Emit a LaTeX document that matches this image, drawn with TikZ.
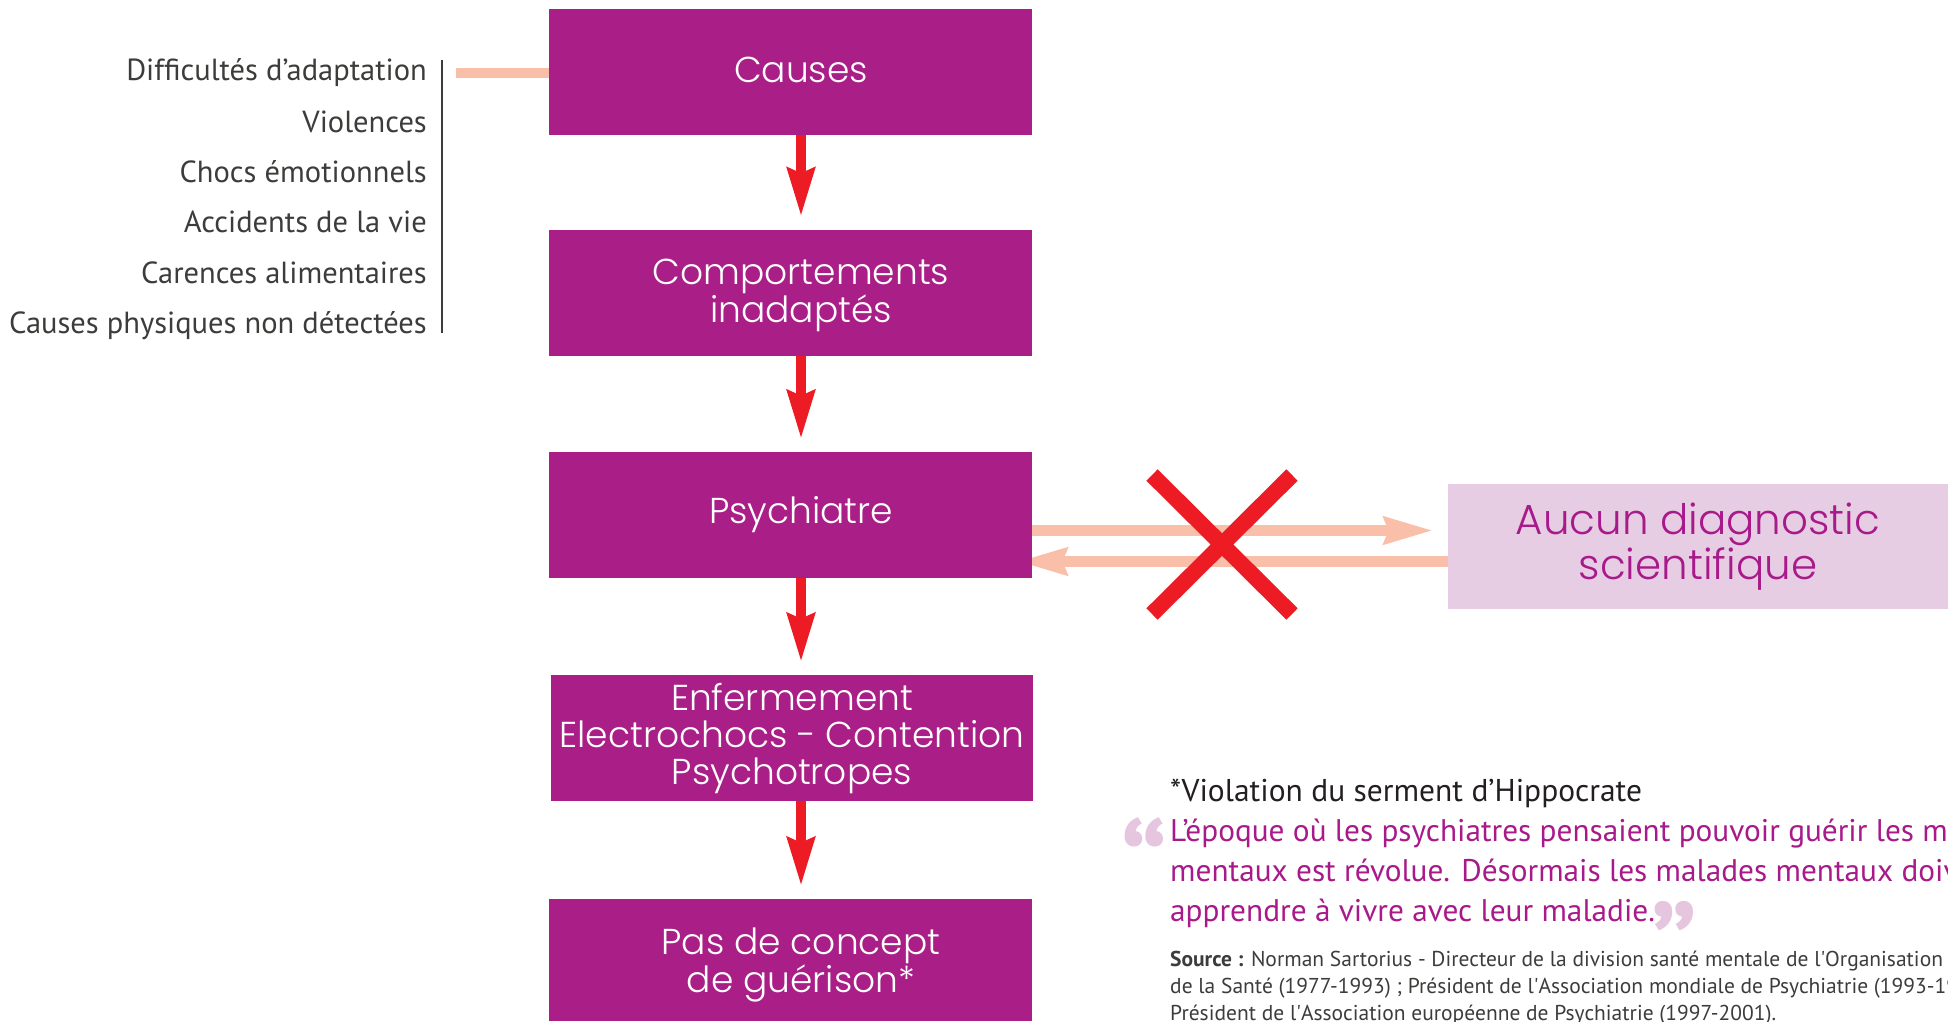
\documentclass[tikz,border=0pt]{standalone}
\usepackage{fontspec}
\setmainfont{PT Sans}
\newfontfamily\boxfont{Poppins Light}
\usetikzlibrary{arrows.meta}
\definecolor{boxpurple}{HTML}{AA1E88}
\definecolor{lightpink}{HTML}{E7CDE3}
\definecolor{salmon}{HTML}{F9BFA8}
\definecolor{xred}{HTML}{ED1C24}
\definecolor{quotepink}{HTML}{E6C5DF}
\definecolor{magtext}{HTML}{A8198A}
\definecolor{listgray}{HTML}{3C3C3B}
\definecolor{darktext}{HTML}{231F20}
\pgfdeclarelayer{bg}
\pgfsetlayers{bg,main}
\begin{document}
\begin{tikzpicture}[x=1pt,y=-1pt,
  stepbox/.style={rectangle, fill=boxpurple, inner sep=0pt,
    minimum width=483pt, minimum height=126pt},
  boxtext/.style={inner sep=0pt, text=white, align=center,
    font={\boxfont\fontsize{36}{37}\selectfont}},
  redarrow/.style={draw=xred, line width=10pt,
    -{Stealth[length=48pt,width=27pt,inset=5pt]}, shorten >=13pt},
  salarrow/.style={draw=salmon, line width=11pt,
    -{Stealth[length=49pt,width=26pt,inset=4pt]}},
  listtext/.style={anchor=base east, inner sep=0pt, text=listgray,
    font={\fontsize{30.5}{31}\selectfont}},
  quotetext/.style={anchor=base west, inner sep=0pt, text=magtext,
    font={\fontsize{31.3}{31}\selectfont}},
  sourcetext/.style={anchor=base west, inner sep=0pt, text=listgray,
    font={\fontsize{21.5}{22}\selectfont}},
  quotemark/.style={anchor=base, inner sep=0pt, text=quotepink,
    font={\bfseries\fontsize{120}{120}\selectfont}}
]
\useasboundingbox (0,0) rectangle (1948,1021);
\clip (0,0) rectangle (1948,1021);

% list
\node[listtext] (l1) at (427,80) {Difficultés d’adaptation};
\node[listtext] (l2) at (427,132) {Violences};
\node[listtext] (l3) at (427,182) {Chocs émotionnels};
\node[listtext] (l4) at (427,232) {Accidents de la vie};
\node[listtext] (l5) at (427,283) {Carences alimentaires};
\node[listtext] (l6) at (427,333) {Causes physiques non détectées};
\coordinate (vtop) at (442,60);
\coordinate (vbot) at (442,333);
\draw[listgray, line width=1.5pt] (vtop) -- (vbot);

% boxes
\node[stepbox] (causes) at (790.5,72) {};
\node[stepbox] (comp) at (790.5,292.5) {};
\node[stepbox] (psy) at (790.5,515) {};
\node[stepbox, minimum width=482pt] (enf) at (792,738) {};
\node[stepbox, minimum height=122pt] (pas) at (790.5,960) {};
\node[boxtext] (causes-t) at ([xshift=10.5pt,yshift=2.5pt]causes.center) {Causes};
\node[boxtext] (comp-t) at ([xshift=10.5pt,yshift=-2.5pt]comp.center) {Comportements\\inadaptés};
\node[boxtext] (psy-t) at ([xshift=10.5pt]psy.center) {Psychiatre};
\node[boxtext] (enf-t) at ([yshift=-1pt]enf.center) {Enfermement\\Electrochocs - Contention\\Psychotropes};
\node[boxtext] (pas-t) at ([xshift=10.5pt,yshift=-5pt]pas.center) {Pas de concept\\de guérison*};
\node[rectangle, fill=lightpink, text=magtext, inner sep=0pt, minimum width=500pt,
  minimum height=125pt, align=center, font={\boxfont\fontsize{42}{45}\selectfont}]
  (aucun) at (1698,546.5) {Aucun diagnostic\\scientifique};

% connector list -> causes
\coordinate (cstart) at (456,73);
\draw[salmon, line width=10pt] (cstart) -- (cstart -| causes.west);

% red arrows
\draw[redarrow] ([xshift=10.5pt]causes.south) -- ([xshift=10.5pt]comp.north);
\draw[redarrow] ([xshift=10.5pt]comp.south) -- ([xshift=10.5pt]psy.north);
\draw[redarrow] ([xshift=10.5pt]psy.south) -- ([xshift=9pt]enf.north);
\draw[redarrow] ([xshift=9pt]enf.south) -- ([xshift=10.5pt]pas.north);

% salmon arrows
\draw[salarrow, shorten >=14pt] ([yshift=-15.5pt]psy.east) -- ([yshift=-15.5pt]psy.east -| aucun.west);
\begin{pgfonlayer}{bg}
\draw[salarrow, shorten >=-15pt] ([yshift=-46.5pt]psy.east -| aucun.west) -- ([yshift=-46.5pt]psy.east);
\end{pgfonlayer}

% red cross
\draw[xred, line width=16pt] (1152,475) -- (1292,614) (1292,475) -- (1152,614);

% footnote and quote
\node[anchor=base west, inner sep=0pt, text=darktext, font={\fontsize{31.5}{31}\selectfont}] (foot) at (1170,801) {*Violation du serment d’Hippocrate};
\node[quotemark] (qopen) at (1144.5,845) {\raisebox{-68pt}[26pt][0pt]{“}};
\node[quotetext] (q1) at (1170,841) {L’époque où les psychiatres pensaient pouvoir guérir les malades};
\node[quotetext] (q2) at (1170,881) {mentaux est révolue. Désormais les malades mentaux doivent};
\node[quotetext] (q3) at (1170,921) {apprendre à vivre avec leur maladie.};
\node[quotemark] (qclose) at (1674,926) {\raisebox{-60pt}[24pt][0pt]{”}};
\node[sourcetext] (s1) at (1170,966) {\textbf{Source :} Norman Sartorius - Directeur de la division santé mentale de l\textquotesingle Organisation mondiale};
\node[sourcetext] (s2) at (1170,993) {de la Santé (1977-1993) ; Président de l\textquotesingle Association mondiale de Psychiatrie (1993-1999) ;};
\node[sourcetext] (s3) at (1170,1020) {Président de l\textquotesingle Association européenne de Psychiatrie (1997-2001).};
\end{tikzpicture}
\end{document}
